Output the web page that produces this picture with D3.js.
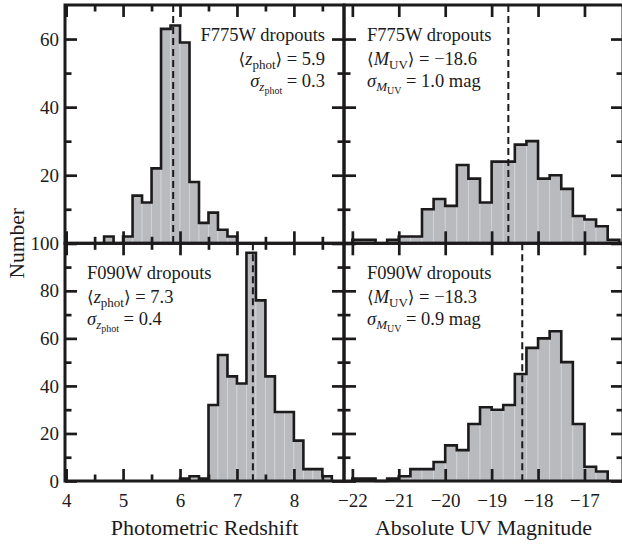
<!DOCTYPE html>
<html><head><meta charset="utf-8">
<script src="https://cdn.jsdelivr.net/npm/d3@7"></script>
<style>
body{margin:0;background:#fff;}
svg{display:block;font-family:"Liberation Serif","Times New Roman",serif;}
</style></head><body>
<svg id="c" width="622" height="549"></svg>
<script>
// ---------- data ----------
const zBinWidth = 1/6;
const mBinWidth = 0.25;

const f775zStart = 4.6667;
const f775zCounts = [2,0,2,14,12,22,63,64,59,18,6,9,4,2];
const f090zStart = 6.0;
const f090zCounts = [1,2,1,32,53,44,41,96,76,44,29,29,17,5,5,2];

const f775mStart = -22.0;
const f775mCounts = [1,1,0,1,2,2,10,13,11,23,19,12,24,24,29,30,19,20,16,8,7,5,1];
const f090mStart = -22.0;
const f090mCounts = [1,1,0,1,2,5,5,8,15,13,24,31,30,32,45,56,60,63,50,24,6,4];

const meanZ = [5.88, 7.28];     // F775W, F090W
const meanM = [-18.64, -18.34];

const zTicks = [4,5,6,7,8];
const zMinorTicks = [4.5,5.5,6.5,7.5,8.5];
const mTicks = [-22,-21,-20,-19,-18,-17];
const topYTicks = [0,20,40,60];
const topYMinor = [10,30,50];
const topYLabels = [20,40,60];
const botYTicks = [0,20,40,60,80,100];
const botYMinor = [10,30,50,70,90];

// ---------- layout ----------
const L = 65, M = 344, R = 623, T = 5, H = 243.3, B = 481;
const svg = d3.select("#c");
const ink = "#1c1a1b";

const xz = d3.scaleLinear().domain([3.98, 8.88]).range([L, M]);
const xm = d3.scaleLinear().domain([-22.18, -16.17]).range([M, R]);
const yTop = d3.scaleLinear().domain([0, 70]).range([H, T]);
const yBot = d3.scaleLinear().domain([0, 100]).range([B, H]);

const panels = [
  {x: xz, y: yTop, start: f775zStart, w: zBinWidth, counts: f775zCounts, mean: meanZ[0], top: T, bot: H, kind: "z", row: 0},
  {x: xm, y: yTop, start: f775mStart, w: mBinWidth, counts: f775mCounts, mean: meanM[0], top: T, bot: H, kind: "m", row: 0},
  {x: xz, y: yBot, start: f090zStart, w: zBinWidth, counts: f090zCounts, mean: meanZ[1], top: H, bot: B, kind: "z", row: 1},
  {x: xm, y: yBot, start: f090mStart, w: mBinWidth, counts: f090mCounts, mean: meanM[1], top: H, bot: B, kind: "m", row: 1}
];

panels.forEach(p => {
  const bins = p.counts.map((c, i) => ({x0: p.start + i * p.w, x1: p.start + (i + 1) * p.w, c}));
  const g = svg.append("g");
  // fills
  g.selectAll("rect").data(bins.filter(b => b.c > 0)).join("rect")
    .attr("x", b => p.x(b.x0)).attr("width", b => p.x(b.x1) - p.x(b.x0))
    .attr("y", b => p.y(b.c)).attr("height", b => p.y(0) - p.y(b.c))
    .attr("fill", "#b9babe").attr("stroke", "#d4d5d8").attr("stroke-width", 0.8);
  // step outline
  const pts = [[bins[0].x0, 0]];
  bins.forEach(b => { pts.push([b.x0, b.c]); pts.push([b.x1, b.c]); });
  pts.push([bins[bins.length - 1].x1, 0]);
  g.append("path").datum(pts)
    .attr("d", d3.line().x(d => p.x(d[0])).y(d => p.y(d[1])))
    .attr("fill", "none").attr("stroke", ink).attr("stroke-width", 2.6)
    .attr("stroke-linejoin", "miter");
  // mean line
  g.append("line")
    .attr("x1", p.x(p.mean)).attr("x2", p.x(p.mean))
    .attr("y1", p.top).attr("y2", p.bot)
    .attr("stroke", ink).attr("stroke-width", 2).attr("stroke-dasharray", "7,4");
});

// ---------- ticks ----------
function tickAxis(axisFn, scale, values, len, tr) {
  const g = svg.append("g").attr("transform", tr)
    .call(axisFn(scale).tickValues(values).tickSizeInner(-len).tickSizeOuter(0).tickFormat(""));
  g.select(".domain").remove();
  g.selectAll(".tick line").attr("stroke", ink).attr("stroke-width", 2.7);
  return g;
}
panels.forEach(p => {
  const xl = p.x.range()[0], xr = p.x.range()[1];
  const xMaj = p.kind === "z" ? zTicks : mTicks;
  tickAxis(d3.axisBottom, p.x, xMaj, 12, `translate(0,${p.bot})`);
  tickAxis(d3.axisTop, p.x, xMaj, 12, `translate(0,${p.top})`);
  if (p.kind === "z") {
    tickAxis(d3.axisBottom, p.x, zMinorTicks, 6.5, `translate(0,${p.bot})`);
    tickAxis(d3.axisTop, p.x, zMinorTicks, 6.5, `translate(0,${p.top})`);
  }
  const yMaj = p.row === 0 ? topYTicks : botYTicks;
  const yMin = p.row === 0 ? topYMinor : botYMinor;
  tickAxis(d3.axisLeft, p.y, yMaj, 12, `translate(${xl},0)`);
  tickAxis(d3.axisRight, p.y, yMaj, 12, `translate(${xr},0)`);
  tickAxis(d3.axisLeft, p.y, yMin, 6.5, `translate(${xl},0)`);
  tickAxis(d3.axisRight, p.y, yMin, 6.5, `translate(${xr},0)`);
  // frame
  svg.append("rect").attr("x", xl).attr("y", p.top)
    .attr("width", xr - xl).attr("height", p.bot - p.top)
    .attr("fill", "none").attr("stroke", ink).attr("stroke-width", 3);
});

// ---------- tick labels ----------
function labelAxis(axisFn, scale, values, pad, tr) {
  const g = svg.append("g").attr("transform", tr)
    .call(axisFn(scale).tickValues(values).tickSize(0).tickPadding(pad).tickFormat(d3.format("d")));
  g.select(".domain").remove();
  g.attr("font-family", null).attr("font-size", 19);
  g.selectAll("text").attr("fill", ink);
  return g;
}
labelAxis(d3.axisLeft, yTop, topYLabels, 6, `translate(${L},0)`);
labelAxis(d3.axisLeft, yBot, botYTicks, 6, `translate(${L},0)`);
labelAxis(d3.axisBottom, xz, zTicks, 13, `translate(0,${B})`);
labelAxis(d3.axisBottom, xm, mTicks, 13, `translate(0,${B})`);

// ---------- titles ----------
svg.append("text").attr("x", (L + M) / 2).attr("y", 535).attr("text-anchor", "middle")
  .attr("font-size", 22).attr("fill", ink).text("Photometric Redshift");
svg.append("text").attr("x", (M + R) / 2).attr("y", 535).attr("text-anchor", "middle")
  .attr("font-size", 22).attr("fill", ink).text("Absolute UV Magnitude");
svg.append("text").attr("transform", `translate(24,${H}) rotate(-90)`).attr("text-anchor", "middle")
  .attr("font-size", 21.5).attr("fill", ink).text("Number");

// ---------- annotations ----------
function rich(x, y, anchor, parts) {
  const t = svg.append("text").attr("x", x).attr("y", y).attr("text-anchor", anchor)
    .attr("font-size", 18.5).attr("fill", ink);
  parts.forEach(q => {
    const s = t.append("tspan").text(q.t);
    if (q.i) s.attr("font-style", "italic");
    if (q.s) s.attr("font-size", q.s);
    if (q.dy) s.attr("dy", q.dy);
    if (q.f) s.attr("font-family", q.f);
  });
}
const br = "DejaVu Serif";
const ann = [
  {x: 325, top: T, anchor: "end", name: "F775W dropouts", sym: "z", sub: "phot", mean: "5.9", sig: "0.3", unit: ""},
  {x: 367, top: T, anchor: "start", name: "F775W dropouts", sym: "M", sub: "UV", mean: "\u221218.6", sig: "1.0", unit: " mag"},
  {x: 87, top: H, anchor: "start", name: "F090W dropouts", sym: "z", sub: "phot", mean: "7.3", sig: "0.4", unit: ""},
  {x: 367, top: H, anchor: "start", name: "F090W dropouts", sym: "M", sub: "UV", mean: "\u221218.3", sig: "0.9", unit: " mag"}
];
ann.forEach(a => {
  rich(a.x, a.top + 36, a.anchor, [{t: a.name}]);
  rich(a.x, a.top + 60, a.anchor, [
    {t: "\u27E8", f: br, s: 17}, {t: a.sym, i: 1}, {t: a.sub, s: 13, dy: 4},
    {t: "\u27E9", f: br, s: 17, dy: -4}, {t: " = " + a.mean}
  ]);
  rich(a.x, a.top + 82, a.anchor, [
    {t: "\u03C3", i: 1}, {t: a.sym, i: 1, s: 13, dy: 4}, {t: a.sub, s: 10, dy: 3},
    {t: " = " + a.sig + a.unit, dy: -7}
  ]);
});
</script>
</body></html>
